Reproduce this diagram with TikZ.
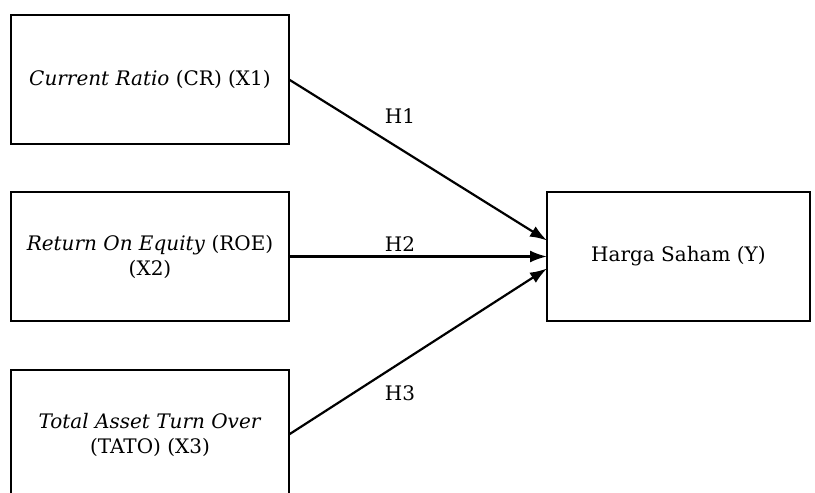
\documentclass[tikz,border=0pt]{standalone}
\usepackage{fontspec}
\setmainfont{DejaVu Serif}
\usetikzlibrary{arrows.meta,positioning}

\begin{document}
\begin{tikzpicture}[
  x=0.5pt,y=0.5pt,
  node distance=24pt,
  varbox/.style={draw,line width=1.4pt,outer sep=0pt,minimum width=139pt,minimum height=64.5pt,align=center,font=\fontsize{10}{12.5}\selectfont},
  hlabel/.style={font=\fontsize{10}{12.5}\selectfont,inner sep=1pt},
  path/.style={->,line width=1.1pt},
  >={Latex[length=8.5pt,width=6pt]}
]
  \clip (0,0) rectangle (815,493);
  \useasboundingbox (0,0) rectangle (815,493);
  \node[varbox] (cr) at (150,413.5) {\textit{Current Ratio} (CR) (X1)};
  \node[varbox,below=24pt of cr] (roe) {\textit{Return On Equity} (ROE)\\(X2)};
  \node[varbox,below=24.5pt of roe] (tato) {\textit{Total Asset Turn Over}\\(TATO) (X3)};
  \node[varbox,minimum width=131.5pt,right=129pt of roe] (hs) {Harga Saham (Y)};
  \draw[path] (cr.east)--([yshift=8pt]hs.west) node[hlabel,pos=0.43,above=11pt]{H1};
  \draw[path] (roe.east)--(hs.west) node[hlabel,pos=0.43,above=1pt]{H2};
  \draw[path] (tato.east)--([yshift=-6pt]hs.west) node[hlabel,pos=0.43,below=9.5pt]{H3};
\end{tikzpicture}
\end{document}
